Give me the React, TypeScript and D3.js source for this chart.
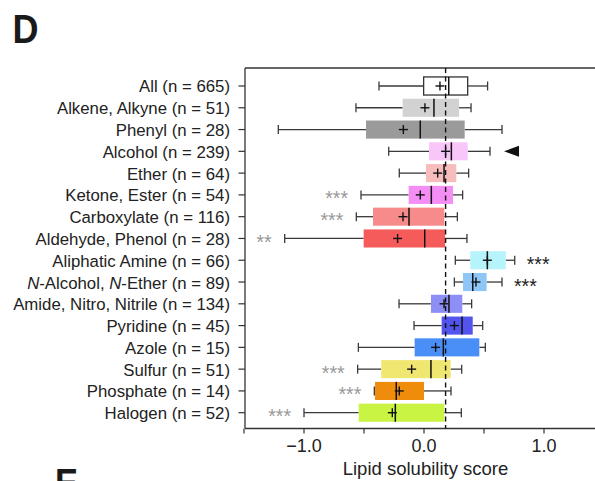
import React from "react";
import * as d3 from "d3";

// Functional-group categories and sample sizes
const groups = [
  "All", "Alkene, Alkyne", "Phenyl", "Alcohol", "Ether", "Ketone, Ester",
  "Carboxylate", "Aldehyde, Phenol", "Aliphatic Amine", "N-Alcohol, N-Ether",
  "Amide, Nitro, Nitrile", "Pyridine", "Azole", "Sulfur", "Phosphate", "Halogen",
];
const counts = [665, 51, 28, 239, 64, 54, 116, 28, 66, 89, 134, 45, 15, 51, 14, 52];

// Box-plot summaries of the lipid solubility score
const whiskerLow = [-0.375, -0.567, -1.214, -0.294, -0.206, -0.525, -0.564, -1.161, 0.261, 0.253, -0.208, -0.083, -0.547, -0.553, -0.414, -1.0];
const q1 = [-0.003, -0.178, -0.483, 0.042, 0.017, -0.128, -0.425, -0.503, 0.386, 0.325, 0.058, 0.147, -0.078, -0.356, -0.408, -0.544];
const median = [0.206, 0.083, -0.031, 0.228, 0.167, 0.061, -0.125, 0.006, 0.528, 0.406, 0.208, 0.317, 0.161, 0.058, -0.231, -0.239];
const q3 = [0.364, 0.292, 0.339, 0.364, 0.269, 0.242, 0.169, 0.175, 0.681, 0.522, 0.319, 0.406, 0.461, 0.222, 0.0, 0.169];
const whiskerHigh = [0.53, 0.392, 0.65, 0.55, 0.372, 0.322, 0.278, 0.358, 0.756, 0.65, 0.397, 0.489, 0.511, 0.314, 0.225, 0.311];
const means = [0.133, 0.008, -0.172, 0.18, 0.114, -0.031, -0.175, -0.22, 0.528, 0.433, 0.167, 0.253, 0.097, -0.103, -0.206, -0.264];

// Significance marks; sigHigher places them right of the upper whisker
const significance = ["", "", "", "", "", "***", "***", "**", "***", "***", "", "", "", "***", "***", "***"];
const sigHigher = [false, false, false, false, false, false, false, false, true, true, false, false, false, false, false, false];

const fills = [
  "#ffffff", "#d2d2d2", "#9a9a9a", "#f9c6f9", "#f7bcbc", "#f48ef4",
  "#f78a8a", "#f65b5b", "#b6f3fa", "#8ec6f7", "#8e8ef7", "#5353ee",
  "#4a8ff8", "#f0e770", "#ef8c0c", "#c9f443",
];

const referenceScore = 0.18; // dashed line: median of all
const highlighted = "Alcohol";

const xTicks = [-1.5, -1.0, -0.5, 0.0, 0.5, 1.0, 1.5];
const xTickLabels = [-1.0, 0.0, 1.0];

const W = 595;
const H = 481;
const FONT = "'Liberation Sans', Arial, Helvetica, sans-serif";

export default function App() {
  const plotLeft = 245;
  const plotTop = 68;
  const plotBottom = 428.5;

  const x = d3.scaleLinear().domain([-1.5, 1.5]).range([244, 604]);
  const y = d3
    .scaleBand<string>()
    .domain(groups)
    .range([75.1, 423.6])
    .paddingInner(0.17)
    .paddingOuter(0.085);
  const bw = y.bandwidth();
  const cy = (g: string) => (y(g) as number) + bw / 2;
  const fmt = (v: number) => d3.format(".1f")(v).replace("-", "\u2212");

  const capH = 9;
  const whiskerColor = "#3a3a3a";

  return (
    <svg
      width={W}
      height={H}
      style={{ position: "absolute", left: 0, top: 0, background: "#fff" }}
      fontFamily={FONT}
    >
      {/* panel letters */}
      <text x={12.5} y={42.7} fontSize={41} fontWeight="bold" fill="#1a1a1a" textLength={26} lengthAdjust="spacingAndGlyphs">D</text>
      <text x={55} y={496.5} fontSize={41} fontWeight="bold" fill="#1a1a1a" textLength={23} lengthAdjust="spacingAndGlyphs">E</text>

      {/* frame: top and left */}
      <line x1={plotLeft} x2={W} y1={plotTop} y2={plotTop} stroke="#333" strokeWidth={1.3} />
      <line x1={plotLeft} x2={plotLeft} y1={plotTop} y2={plotBottom} stroke="#333" strokeWidth={1.3} />

      {/* x axis */}
      <line x1={plotLeft} x2={W} y1={plotBottom} y2={plotBottom} stroke="#333" strokeWidth={1.3} />
      {xTicks.map((t) => (
        <line key={t} x1={x(t)} x2={x(t)} y1={plotBottom} y2={plotBottom + 5} stroke="#333" strokeWidth={1.2} />
      ))}
      {xTickLabels.map((t) => (
        <text key={t} x={x(t)} y={452} fontSize={18} textAnchor="middle" fill="#222">
          {fmt(t)}
        </text>
      ))}
      <text x={x(0) + 1.5} y={475} fontSize={18.5} textAnchor="middle" fill="#222">
        Lipid solubility score
      </text>

      {/* y axis ticks and labels */}
      {groups.map((g, i) => {
        const yy = cy(g);
        const label =
          g === "N-Alcohol, N-Ether" ? (
            <>
              <tspan fontStyle="italic">N</tspan>-Alcohol, <tspan fontStyle="italic">N</tspan>-Ether (n = {counts[i]})
            </>
          ) : (
            `${g} (n = ${counts[i]})`
          );
        return (
          <g key={g}>
            <line x1={238.5} x2={plotLeft} y1={yy} y2={yy} stroke="#333" strokeWidth={1.2} />
            <text x={230} y={yy + 6.5} fontSize={16.8} textAnchor="end" fill="#222">
              {label}
            </text>
          </g>
        );
      })}

      {/* whiskers and boxes */}
      {groups.map((g, i) => {
        const yy = cy(g);
        const top = y(g) as number;
        return (
          <g key={g}>
            <line x1={x(whiskerLow[i])} x2={x(q1[i])} y1={yy} y2={yy} stroke={whiskerColor} strokeWidth={1.3} />
            <line x1={x(q3[i])} x2={x(whiskerHigh[i])} y1={yy} y2={yy} stroke={whiskerColor} strokeWidth={1.3} />
            <line x1={x(whiskerLow[i])} x2={x(whiskerLow[i])} y1={yy - capH / 2} y2={yy + capH / 2} stroke={whiskerColor} strokeWidth={1.3} />
            <line x1={x(whiskerHigh[i])} x2={x(whiskerHigh[i])} y1={yy - capH / 2} y2={yy + capH / 2} stroke={whiskerColor} strokeWidth={1.3} />
            <rect
              x={x(q1[i])}
              y={top}
              width={x(q3[i]) - x(q1[i])}
              height={bw}
              fill={fills[i]}
              stroke={i === 0 ? "#333" : "none"}
              strokeWidth={1.3}
            />
          </g>
        );
      })}

      {/* reference dashed line */}
      <line
        x1={x(referenceScore)}
        x2={x(referenceScore)}
        y1={plotTop}
        y2={plotBottom}
        stroke="#111"
        strokeWidth={1.4}
        strokeDasharray="5,3.5"
      />

      {/* medians and means */}
      {groups.map((g, i) => {
        const yy = cy(g);
        const top = y(g) as number;
        const mx = x(means[i]);
        return (
          <g key={g}>
            <line x1={x(median[i])} x2={x(median[i])} y1={top} y2={top + bw} stroke="#111" strokeWidth={1.5} />
            <line x1={mx - 4.5} x2={mx + 4.5} y1={yy} y2={yy} stroke="#111" strokeWidth={1.4} />
            <line x1={mx} x2={mx} y1={yy - 4.5} y2={yy + 4.5} stroke="#111" strokeWidth={1.4} />
          </g>
        );
      })}

      {/* significance stars */}
      {groups.map((g, i) =>
        significance[i] ? (
          <text
            key={g}
            x={sigHigher[i] ? x(whiskerHigh[i]) + 12 : x(whiskerLow[i]) - 13}
            y={cy(g) + 10.5}
            fontSize={19.5}
            textAnchor={sigHigher[i] ? "start" : "end"}
            fill={sigHigher[i] ? "#222" : "#999"}
          >
            {significance[i]}
          </text>
        ) : null
      )}

      {/* marker for the highlighted group */}
      {(() => {
        const i = groups.indexOf(highlighted);
        const yy = cy(highlighted);
        const tip = x(whiskerHigh[i]) + 14;
        return <path d={`M${tip},${yy} L${tip + 15},${yy - 5.5} L${tip + 15},${yy + 5.5} Z`} fill="#111" />;
      })()}
    </svg>
  );
}
